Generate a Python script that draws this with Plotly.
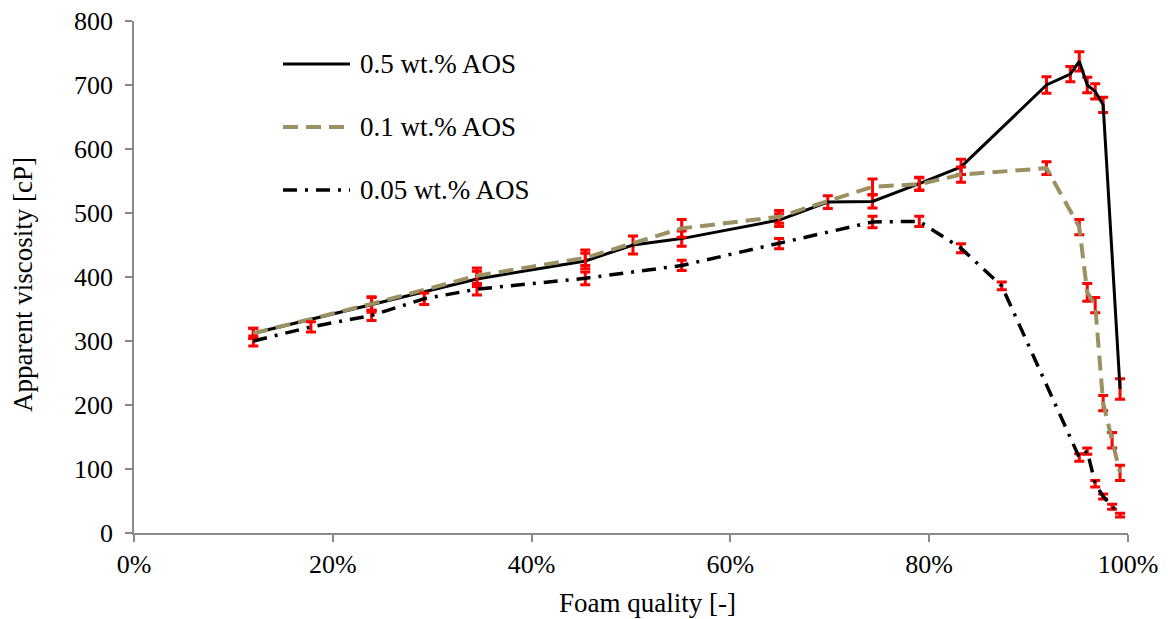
import plotly.graph_objects as go

# ---- data (foam quality in %, apparent viscosity in cP) ----
x_05 = [12.0, 23.9, 34.5, 45.4, 50.2, 55.1, 64.9, 69.8, 74.3, 79.0, 83.2, 91.8, 94.2, 95.1, 95.9, 96.7, 97.5, 99.2]
y_05 = [312, 357, 397, 425, 450, 460, 489, 517, 518, 546, 572, 700, 717, 737, 700, 690, 669, 225]
e_05 = [8, 12, 12, 12, 14, 12, 10, 10, 10, 10, 12, 13, 12, 15, 12, 12, 12, 16]

x_01 = [12.0, 23.9, 34.5, 45.4, 55.1, 64.9, 74.3, 79.0, 83.2, 91.8, 95.1, 95.9, 96.7, 97.5, 98.4, 99.2]
y_01 = [312, 358, 402, 430, 476, 494, 541, 545, 560, 570, 478, 376, 356, 203, 145, 94]
e_01 = [8, 10, 12, 12, 14, 10, 12, 10, 12, 10, 12, 14, 12, 12, 12, 12]

x_005 = [12.0, 17.8, 23.9, 29.2, 34.5, 45.4, 55.1, 64.9, 74.3, 79.0, 83.2, 87.3, 95.1, 95.9, 96.7, 97.5, 98.4, 99.2]
y_005 = [300, 322, 340, 366, 381, 398, 418, 452, 486, 487, 445, 386, 118, 128, 77, 57, 41, 28]
e_005 = [8, 8, 8, 9, 9, 10, 8, 8, 9, 8, 7, 6, 6, 5, 5, 4, 4, 3]

series_names = ["0.5 wt.% AOS", "0.1 wt.% AOS", "0.05 wt.% AOS"]
x_ticks = [0, 20, 40, 60, 80, 100]
x_tick_labels = ["0%", "20%", "40%", "60%", "80%", "100%"]
y_ticks = [0, 100, 200, 300, 400, 500, 600, 700, 800]
x_title = "Foam quality [-]"
y_title = "Apparent viscosity [cP]"

FONT = "Liberation Serif"
FS = 26
RED = "#ff0000"
OLIVE = "#9b9061"
AXIS = "#898989"

styles = [
    dict(color="black", width=3, dash="solid"),
    dict(color=OLIVE, width=4, dash="15px,8px"),
    dict(color="black", width=3.5, dash="14px,8px,3px,8px"),
]

fig = go.Figure()
for xs, ys, es, name, st in zip([x_05, x_01, x_005], [y_05, y_01, y_005],
                                [e_05, e_01, e_005], series_names, styles):
    fig.add_trace(go.Scatter(
        x=xs, y=ys, mode="lines", name=name, showlegend=False,
        line=st, cliponaxis=False,
        error_y=dict(type="data", array=es, visible=True, color=RED,
                     thickness=3, width=5),
    ))

# page body adds an 8 px offset at the top-left
fig.update_layout(
    width=1152, height=611,
    margin=dict(l=126, r=32, t=13, b=86, autoexpand=False),
    paper_bgcolor="white", plot_bgcolor="white",
    font=dict(family=FONT, size=FS, color="black"),
    xaxis=dict(
        range=[0, 100], tickvals=x_ticks, ticktext=x_tick_labels, automargin=False,
        showgrid=False, zeroline=False, showline=True, linecolor=AXIS, linewidth=1.5,
        ticks="outside", ticklen=7, tickcolor=AXIS, tickwidth=1.5,
        ticklabelstandoff=0, ticklabeloverflow="allow",
    ),
    yaxis=dict(
        range=[0, 800], tickvals=y_ticks, automargin=False,
        showgrid=False, zeroline=False, showline=True, linecolor=AXIS, linewidth=1.5,
        ticks="outside", ticklen=7, tickcolor=AXIS, tickwidth=1.5,
        ticklabelstandoff=7, ticklabeloverflow="allow",
    ),
)

# axis titles (placed as in the reference, slightly off-centre)
fig.add_annotation(xref="paper", yref="paper", x=0.5171, y=-0.1367,
                   xanchor="center", yanchor="middle", showarrow=False,
                   text=x_title, font=dict(family=FONT, size=27, color="black"))
fig.add_annotation(xref="paper", yref="paper", x=-0.1117, y=0.4863,
                   xanchor="center", yanchor="middle", showarrow=False, textangle=-90,
                   text=y_title, font=dict(family=FONT, size=27, color="black"))

# ---- legend drawn manually to match the reference sample length / spacing ----
leg_y = [0.916, 0.793, 0.670]
for yy, name, st in zip(leg_y, series_names, styles):
    fig.add_shape(type="line", xref="paper", yref="paper",
                  x0=0.1499, x1=0.2173, y0=yy, y1=yy,
                  line=dict(color=st["color"], width=st["width"], dash=st["dash"]))
    fig.add_annotation(xref="paper", yref="paper", x=0.2254, y=yy,
                       xanchor="left", yanchor="middle", showarrow=False,
                       text=name, font=dict(family=FONT, size=27, color="black"))

fig.write_html("out.html")
